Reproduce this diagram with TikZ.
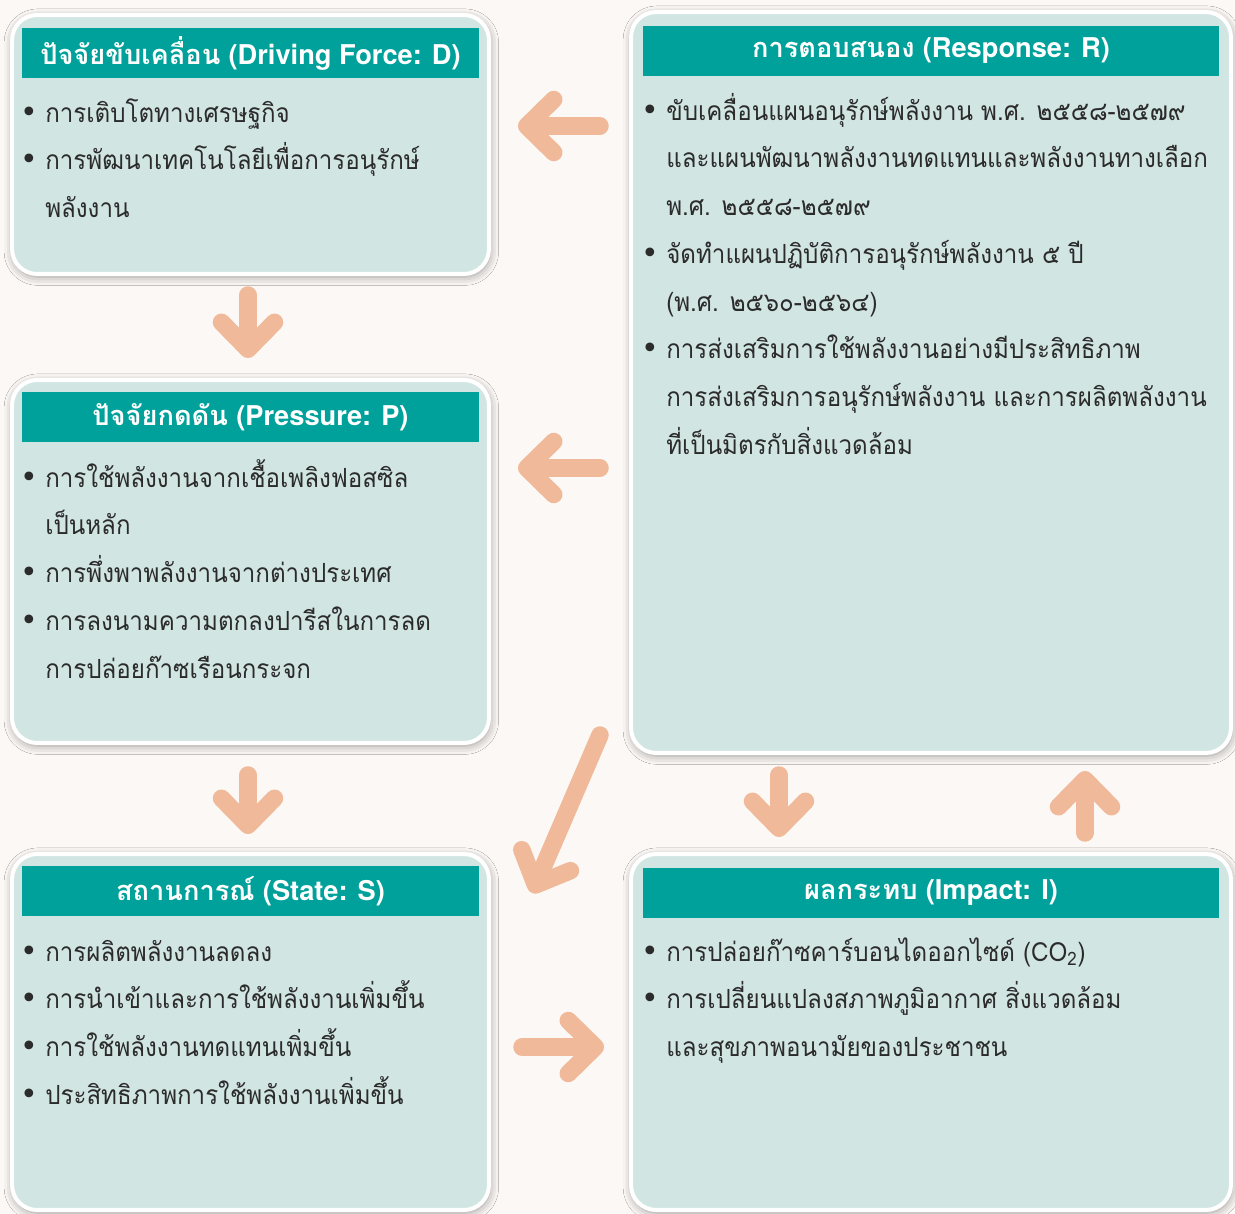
\documentclass[tikz,border=0pt]{standalone}
\usepackage{fontspec}
\usetikzlibrary{arrows.meta,shadows.blur}

\newfontfamily\thaifont[Script=Thai]{Loma}
\newfontfamily\thaibody[Script=Thai,FakeStretch=0.915]{Loma}
\newfontfamily\latinfont{TeX Gyre Heros}
\newfontfamily\dotfont{DejaVu Sans}

\definecolor{bgc}{HTML}{FCF8F5}
\definecolor{boxc}{HTML}{D1E5E3}
\definecolor{headc}{HTML}{00A19A}
\definecolor{arrowc}{HTML}{F0BA9A}
\definecolor{txtc}{HTML}{2B2B2B}

\newcommand{\bul}{\makebox[14.2pt][l]{\dotfont\fontsize{17}{17}\selectfont •}}
\newcommand{\ind}{\hspace*{14.2pt}}
\newcommand{\hd}[2]{{\thaifont\bfseries #1} {\latinfont\bfseries #2}}

\begin{document}
\begin{tikzpicture}[x=0.02cm,y=-0.02cm,
    box/.style={draw=white, line width=0.08cm, fill=boxc, rounded corners=0.5cm,
      blur shadow={shadow xshift=0.5pt, shadow yshift=-1.5pt,
        shadow blur radius=5pt, shadow opacity=40}},
    head/.style={fill=headc, text=white, minimum height=1cm, inner sep=0pt,
      font=\fontsize{15.5}{18}\selectfont},
    body/.style={anchor=base west, inner sep=0pt, text=txtc,
      font=\thaibody\fontsize{15}{27.2}\selectfont},
    flow/.style={draw=arrowc, line width=0.35cm, line cap=round,
      -{Straight Barb[round, length=0.54cm, width=1.06cm]}}]

  % ---- canvas --------------------------------------
  \fill[bgc] (0,0) rectangle (1235,1214);
  \useasboundingbox (0,0) rectangle (1235,1214);

  % ---- the five boxes ------------------------------
  \node[box, minimum width=9.54cm, minimum height=5.18cm]  (D) at (250.5,144.5) {};
  \node[box, minimum width=9.54cm, minimum height=7.26cm]  (P) at (250.5,561.5) {};
  \node[box, minimum width=9.54cm, minimum height=7.12cm]  (S) at (250.5,1032) {};
  \node[box, minimum width=12.0cm, minimum height=14.82cm] (R) at (931,382.5) {};
  \node[box, minimum width=12.0cm, minimum height=7.12cm]  (I) at (931,1032) {};

  % ---- header bars ---------------------------------
  \node[head, minimum width=9.14cm]  (Dh) at (250.5,53)  {\hd{ปัจจัยขับเคลื่อน}{(Driving Force: D)}};
  \node[head, minimum width=11.52cm] (Rh) at (931,51)    {\hd{การตอบสนอง}{(Response: R)}};
  \node[head, minimum width=9.14cm]  (Ph) at (250.5,417) {\hd{ปัจจัยกดดัน}{(Pressure: P)}};
  \node[head, minimum width=9.14cm]  (Sh) at (250.5,891) {\hd{สถานการณ์}{(State: S)}};
  \node[head, minimum width=11.52cm] (Ih) at (931,893)   {\hd{ผลกระทบ}{(Impact: I)}};

  % ---- bullet texts --------------------------------
  \node[body] (Dt) at (20,122) {\begin{tabular}[t]{@{}l@{}}
    \bul การเติบโตทางเศรษฐกิจ\\
    \bul การพัฒนาเทคโนโลยีเพื่อการอนุรักษ์\\
    \ind พลังงาน
  \end{tabular}};
  \node[body] (Rt) at (641,120) {\begin{tabular}[t]{@{}l@{}}
    \bul ขับเคลื่อนแผนอนุรักษ์พลังงาน พ.ศ. ๒๕๕๘-๒๕๗๙\\
    \ind และแผนพัฒนาพลังงานทดแทนและพลังงานทางเลือก\\
    \ind พ.ศ. ๒๕๕๘-๒๕๗๙\\
    \bul จัดทำแผนปฏิบัติการอนุรักษ์พลังงาน ๕ ปี\\
    \ind (พ.ศ. ๒๕๖๐-๒๕๖๔)\\
    \bul การส่งเสริมการใช้พลังงานอย่างมีประสิทธิภาพ\\
    \ind การส่งเสริมการอนุรักษ์พลังงาน และการผลิตพลังงาน\\
    \ind ที่เป็นมิตรกับสิ่งแวดล้อม
  \end{tabular}};
  \node[body] (Pt) at (20,487) {\begin{tabular}[t]{@{}l@{}}
    \bul การใช้พลังงานจากเชื้อเพลิงฟอสซิล\\
    \ind เป็นหลัก\\
    \bul การพึ่งพาพลังงานจากต่างประเทศ\\
    \bul การลงนามความตกลงปารีสในการลด\\
    \ind การปล่อยก๊าซเรือนกระจก
  \end{tabular}};
  \node[body] (St) at (20,961) {\begin{tabular}[t]{@{}l@{}}
    \bul การผลิตพลังงานลดลง\\
    \bul การนำเข้าและการใช้พลังงานเพิ่มขึ้น\\
    \bul การใช้พลังงานทดแทนเพิ่มขึ้น\\
    \bul ประสิทธิภาพการใช้พลังงานเพิ่มขึ้น
  \end{tabular}};
  \node[body] (It) at (641,961) {\begin{tabular}[t]{@{}l@{}}
    \bul การปล่อยก๊าซคาร์บอนไดออกไซด์ (CO\textsubscript{2})\\
    \bul การเปลี่ยนแปลงสภาพภูมิอากาศ สิ่งแวดล้อม\\
    \ind และสุขภาพอนามัยของประชาชน
  \end{tabular}};

  % ---- arrow ends ----------------------------------
  \coordinate (rdT) at (600,126);  \coordinate (rdH) at (518,126);
  \coordinate (rpT) at (600,468);  \coordinate (rpH) at (518,468);
  \coordinate (dpT) at (248,295);  \coordinate (dpH) at (248,358);
  \coordinate (psT) at (248,775);  \coordinate (psH) at (248,834);
  \coordinate (rsT) at (600,735);  \coordinate (rsH) at (532,893);
  \coordinate (riT) at (779,775);  \coordinate (riH) at (779,837);
  \coordinate (irT) at (1085,833); \coordinate (irH) at (1085,771);
  \coordinate (siT) at (522,1047); \coordinate (siH) at (604,1047);

  % ---- arrows --------------------------------------
  \draw[flow] (rdT) -- (rdH);
  \draw[flow] (rpT) -- (rpH);
  \draw[flow] (dpT) -- (dpH);
  \draw[flow] (psT) -- (psH);
  \draw[flow] (rsT) -- (rsH);
  \draw[flow] (riT) -- (riH);
  \draw[flow] (irT) -- (irH);
  \draw[flow] (siT) -- (siH);
\end{tikzpicture}
\end{document}
